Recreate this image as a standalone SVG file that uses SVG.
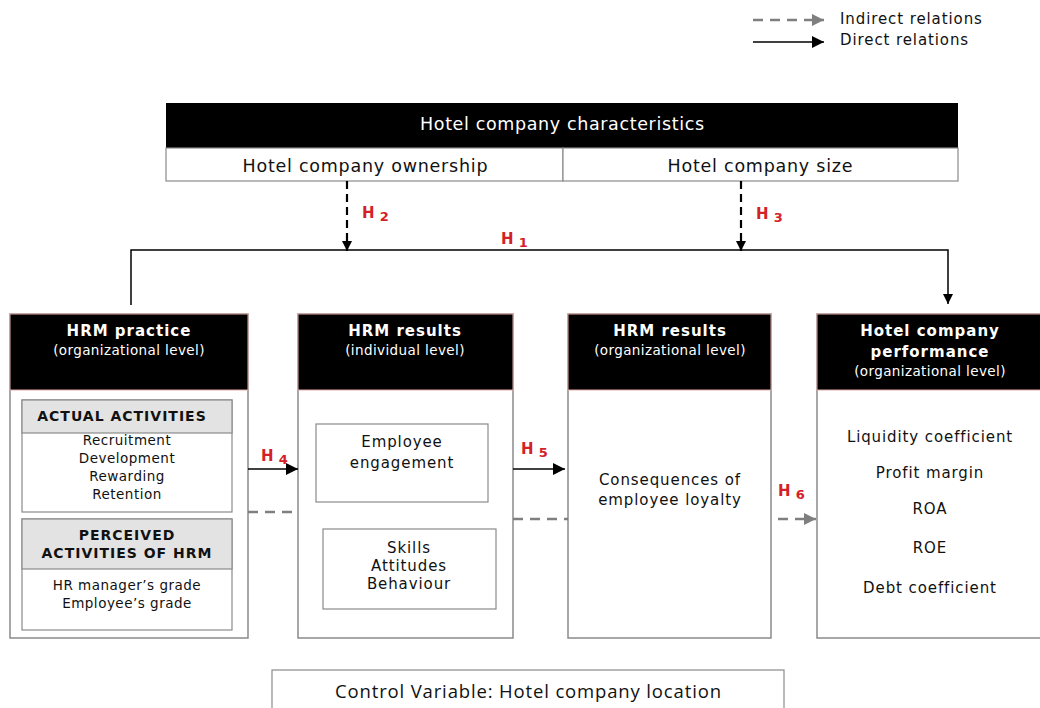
<svg xmlns="http://www.w3.org/2000/svg" width="1040" height="708" viewBox="0 0 1040 708">
<style>
.v{font-family:"DejaVu Sans",Verdana,sans-serif;font-size:13.5px;letter-spacing:0.5px;fill:#111;text-anchor:middle}
.m{font-family:"DejaVu Sans",Verdana,sans-serif;font-size:15px;letter-spacing:0.9px;fill:#111;text-anchor:middle}
.vb{font-family:"DejaVu Sans",Verdana,sans-serif;font-size:15px;letter-spacing:1px;font-weight:bold;fill:#fff;text-anchor:middle}
.vw{font-family:"DejaVu Sans",Verdana,sans-serif;font-size:13.5px;letter-spacing:0.4px;fill:#fff;text-anchor:middle}
.vk{font-family:"DejaVu Sans",Verdana,sans-serif;font-size:14px;letter-spacing:1px;font-weight:bold;fill:#111;text-anchor:middle}
.c{font-family:"DejaVu Sans",sans-serif;font-size:17.5px;text-anchor:middle}
.h{font-family:"DejaVu Sans",Verdana,sans-serif;font-weight:bold;fill:#d42128;font-size:15px}
.hs{font-size:13px}
.box{fill:#fff;stroke:#8a8a8a;stroke-width:1.5}
.hdr{fill:#000;stroke:#e3a9a9;stroke-width:1}
.gh{fill:#e3e3e3;stroke:#8a8a8a;stroke-width:1.2}
.ln{fill:none;stroke:#000;stroke-width:1.5}
.dk{fill:none;stroke:#000;stroke-width:2.2;stroke-dasharray:8,5}
.dg{fill:none;stroke:#7f7f7f;stroke-width:2.5;stroke-dasharray:10,7}
</style>
<defs>
<marker id="ab" viewBox="0 0 10 10" refX="10" refY="5" markerWidth="10" markerHeight="11" markerUnits="userSpaceOnUse" orient="auto"><path d="M0,0 L10,5 L0,10 z" fill="#000"/></marker>
<marker id="abl" viewBox="0 0 10 10" refX="10" refY="5" markerWidth="14" markerHeight="12" markerUnits="userSpaceOnUse" orient="auto"><path d="M0,0 L10,5 L0,10 z" fill="#000"/></marker>
<marker id="ag" viewBox="0 0 10 10" refX="10" refY="5" markerWidth="13" markerHeight="12" markerUnits="userSpaceOnUse" orient="auto"><path d="M0,0 L10,5 L0,10 z" fill="#7f7f7f"/></marker>
</defs>

<g id="legend">
<line x1="753" y1="20" x2="824" y2="20" class="dg" marker-end="url(#ag)"/>
<line x1="753" y1="42" x2="824" y2="42" class="ln" marker-end="url(#abl)"/>
<text x="840" y="24" class="m" style="text-anchor:start">Indirect relations</text>
<text x="840" y="45" class="m" style="text-anchor:start">Direct relations</text>
</g>

<g id="characteristics">
<rect x="166" y="103" width="792" height="45" fill="#000"/>
<text x="562" y="130" class="c" fill="#fff" textLength="284" lengthAdjust="spacing">Hotel company characteristics</text>
<rect x="166" y="148" width="397" height="33" class="box" style="stroke-width:1.2"/>
<rect x="563" y="148" width="395" height="33" class="box" style="stroke-width:1.2"/>
<text x="365" y="172" class="c" fill="#111" textLength="245" lengthAdjust="spacing">Hotel company ownership</text>
<text x="760" y="172" class="c" fill="#111" textLength="185" lengthAdjust="spacing">Hotel company size</text>
</g>

<g id="hrm-practice">
<rect x="10" y="314" width="238" height="324" class="box"/>
<rect x="10" y="314" width="238" height="76" class="hdr"/>
<text x="129" y="336" class="vb">HRM practice</text>
<text x="129" y="355" class="vw">(organizational level)</text>
<rect x="22" y="400" width="210" height="112" class="box" style="stroke-width:1.2"/>
<rect x="22" y="400" width="210" height="33" class="gh"/>
<text x="122" y="421" class="vk">ACTUAL ACTIVITIES</text>
<text x="127" y="445" class="v">Recruitment</text>
<text x="127" y="463" class="v">Development</text>
<text x="127" y="481" class="v">Rewarding</text>
<text x="127" y="499" class="v">Retention</text>
<rect x="22" y="519" width="210" height="111" class="box" style="stroke-width:1.2"/>
<rect x="22" y="519" width="210" height="50" class="gh"/>
<text x="127" y="540" class="vk">PERCEIVED</text>
<text x="127" y="558" class="vk">ACTIVITIES OF HRM</text>
<text x="127" y="590" class="v">HR manager’s grade</text>
<text x="127" y="608" class="v">Employee’s grade</text>
</g>

<g id="hrm-results-individual">
<rect x="298" y="314" width="215" height="324" class="box"/>
<rect x="298" y="314" width="215" height="76" class="hdr"/>
<text x="405" y="336" class="vb">HRM results</text>
<text x="405" y="355" class="vw">(individual level)</text>
<rect x="316" y="424" width="172" height="78" class="box" style="stroke-width:1.2"/>
<text x="402" y="447" class="m">Employee</text>
<text x="402" y="468" class="m">engagement</text>
<rect x="323" y="529" width="173" height="80" class="box" style="stroke-width:1.2"/>
<text x="409" y="553" class="m">Skills</text>
<text x="409" y="571" class="m">Attitudes</text>
<text x="409" y="589" class="m">Behaviour</text>
</g>

<g id="hrm-results-organizational">
<rect x="568" y="314" width="203" height="324" class="box"/>
<rect x="568" y="314" width="203" height="76" class="hdr"/>
<text x="670" y="336" class="vb">HRM results</text>
<text x="670" y="355" class="vw">(organizational level)</text>
<text x="670" y="485" class="m">Consequences of</text>
<text x="670" y="505" class="m">employee loyalty</text>
</g>

<g id="hotel-performance">
<rect x="817" y="314" width="228" height="324" class="box"/>
<rect x="817" y="314" width="228" height="76" class="hdr"/>
<text x="930" y="336" class="vb">Hotel company</text>
<text x="930" y="357" class="vb">performance</text>
<text x="930" y="376" class="vw">(organizational level)</text>
<text x="930" y="442" class="m">Liquidity coefficient</text>
<text x="930" y="478" class="m">Profit margin</text>
<text x="930" y="514" class="m">ROA</text>
<text x="930" y="553" class="m">ROE</text>
<text x="930" y="593" class="m">Debt coefficient</text>
</g>

<g id="control">
<rect x="272" y="670" width="512" height="45" class="box" style="stroke-width:1.2"/>
<text x="528" y="698" class="c" style="font-family:'Open Sans','Liberation Sans',sans-serif;font-size:18.5px" fill="#111" textLength="386" lengthAdjust="spacing">Control Variable: Hotel company location</text>
</g>

<g id="connectors">
<polyline points="131,305 131,250 948,250 948,304" class="ln" marker-end="url(#ab)"/>
<line x1="347" y1="181" x2="347" y2="251" class="dk" marker-end="url(#ab)"/>
<line x1="741" y1="181" x2="741" y2="251" class="dk" marker-end="url(#ab)"/>
<line x1="248" y1="469" x2="298" y2="469" class="ln" marker-end="url(#abl)"/>
<line x1="513" y1="469" x2="565" y2="469" class="ln" marker-end="url(#abl)"/>
<line x1="248" y1="512" x2="298" y2="512" class="dg"/>
<line x1="513" y1="519" x2="568" y2="519" class="dg"/>
<line x1="778" y1="519" x2="816" y2="519" class="dg" marker-end="url(#ag)"/>
</g>

<g id="labels">
<text x="362" y="218" class="h">H <tspan class="hs" dy="3">2</tspan></text>
<text x="756" y="219" class="h">H <tspan class="hs" dy="3">3</tspan></text>
<text x="501" y="244" class="h">H <tspan class="hs" dy="3">1</tspan></text>
<text x="261" y="461" class="h">H <tspan class="hs" dy="3">4</tspan></text>
<text x="521" y="454" class="h">H <tspan class="hs" dy="3">5</tspan></text>
<text x="778" y="496" class="h">H <tspan class="hs" dy="3">6</tspan></text>
</g>
</svg>
